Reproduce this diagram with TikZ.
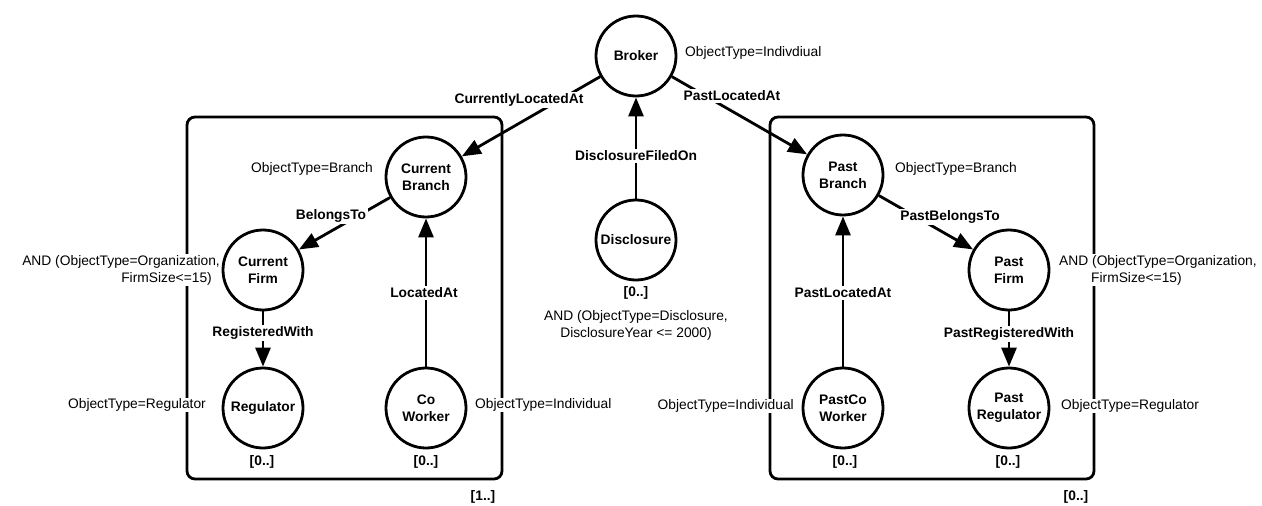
\documentclass[tikz,border=0pt]{standalone}
\usepackage{fontspec}
\setmainfont{Liberation Sans}
\usetikzlibrary{arrows.meta}
\newcommand\mydiagfont{\fontsize{13.8}{17}\selectfont}
\tikzset{
  ent/.style={circle, draw, line width=2.8pt, minimum size=80pt, inner sep=0pt, fill=white, font=\mydiagfont\bfseries, align=center},
  edge/.style={line width=2.8pt, -{Triangle[length=19pt,width=15pt]}},
  elab/.style={fill=white, inner sep=1.5pt, font=\mydiagfont\bfseries},
  attr/.style={fill=white, inner sep=1pt, font=\mydiagfont},
  mult/.style={inner sep=1pt, font=\mydiagfont\bfseries},
  plate/.style={draw, line width=2.8pt, rounded corners=8pt}
}
\begin{document}
\begin{tikzpicture}[x=1pt,y=-1pt]
\useasboundingbox (0,0) rectangle (1262,506);
% entities
\node[ent] (broker) at (636,56) {Broker};
\node[ent] (disc) at (636,240) {Disclosure};
\node[ent] (cb) at (426,177) {Current\\Branch};
\node[ent] (cf) at (263,270) {Current\\Firm};
\node[ent] (reg) at (263,408) {Regulator};
\node[ent] (cw) at (426,408) {Co\\Worker};
\node[ent] (pb) at (843,175) {Past\\Branch};
\node[ent] (pf) at (1009,270) {Past\\Firm};
\node[ent] (pcw) at (843,408) {PastCo\\Worker};
\node[ent] (preg) at (1009,408) {Past\\Regulator};
% plates
\draw[plate] (187,117) rectangle (502,479);
\draw[plate] (770,117) rectangle (1094,479);
% connectors
\draw[edge] (broker) -- (cb);
\draw[edge] (broker) -- (pb);
\draw[edge] (disc) -- (broker);
\draw[edge] (cb) -- (cf);
\draw[edge] (pb) -- (pf);
\draw[edge] (cf) -- (reg);
\draw[edge] (pf) -- (preg);
\draw[edge] (cw) -- (cb);
\draw[edge] (pcw) -- (pb);
% connector labels
\node[elab] (l1) at (519,100) {CurrentlyLocatedAt};
\node[elab] (l2) at (732,96) {PastLocatedAt};
\node[elab] (l3) at (636,156) {DisclosureFiledOn};
\node[elab] (l4) at (331,216) {BelongsTo};
\node[elab] (l5) at (950,217) {PastBelongsTo};
\node[elab] (l6) at (263,333) {RegisteredWith};
\node[elab] (l7) at (1009,334) {PastRegisteredWith};
\node[elab] (l8) at (424,293) {LocatedAt};
\node[elab] (l9) at (843,293) {PastLocatedAt};
% attributes
\node[attr, anchor=west] (a1) at (684,53) {ObjectType=Indivdiual};
\node[attr, anchor=east] (a2) at (374,169) {ObjectType=Branch};
\node[attr, anchor=west] (a3) at (894,169) {ObjectType=Branch};
\node[attr, anchor=east, align=right] (a4) at (221,270) {AND (ObjectType=Organization,\\FirmSize<=15)\hspace*{8pt}};
\node[attr, anchor=west, align=left] (a5) at (1058,270) {AND (ObjectType=Organization,\\\hspace*{32pt}FirmSize<=15)};
\node[attr, align=center] (a6) at (636,325) {AND (ObjectType=Disclosure,\\DisclosureYear <= 2000)};
\node[attr, anchor=east] (a7) at (207,405) {ObjectType=Regulator};
\node[attr, anchor=west] (a8) at (474,405) {ObjectType=Individual};
\node[attr, anchor=east] (a9) at (795,406) {ObjectType=Individual};
\node[attr, anchor=west] (a10) at (1060,406) {ObjectType=Regulator};
% multiplicities
\node[mult] (m0) at (636,293) {[0..]};
\node[mult] (m1) at (262,462) {[0..]};
\node[mult] (m2) at (426,462) {[0..]};
\node[mult] (m3) at (845,462) {[0..]};
\node[mult] (m4) at (1008,462) {[0..]};
\node[mult] (m5) at (483,497) {[1..]};
\node[mult] (m6) at (1076,497) {[0..]};
\end{tikzpicture}
\end{document}
